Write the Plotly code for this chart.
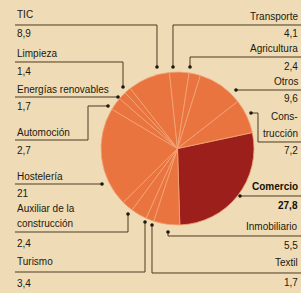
import plotly.graph_objects as go

# ---- data (clockwise order, starting with Comercio) ----
sectors = ["Comercio", "Inmobiliario", "Textil", "Turismo", "Auxiliar de la construcción",
           "Hostelería", "Automoción", "Energías renovables", "Limpieza", "TIC",
           "Transporte", "Agricultura", "Otros", "Construcción"]
values = [27.8, 5.5, 1.7, 3.4, 2.4, 21, 2.7, 1.7, 1.4, 8.9, 4.1, 2.4, 9.6, 7.2]
value_labels = ["27,8", "5,5", "1,7", "3,4", "2,4", "21", "2,7", "1,7", "1,4", "8,9",
                "4,1", "2,4", "9,6", "7,2"]

W, H = 301, 293
BG = "#efdcb6"
ORANGE = "#e97440"
DARK = "#9c1f1c"
INK = "#21190e"
LINE = "#4a3b22"
FONT = "Liberation Sans Narrow, Liberation Sans, Arial, sans-serif"

colors = [DARK] + [ORANGE] * (len(sectors) - 1)

def px(x):
    return x / W

def py(y):
    return 1 - y / H

fig = go.Figure()
fig.add_trace(go.Pie(
    labels=sectors, values=values, sort=False, direction="clockwise", rotation=78,
    marker=dict(colors=colors, line=dict(color="#f3a676", width=0.8)),
    textinfo="none", hoverinfo="label+value", showlegend=False,
    domain=dict(x=[px(101), px(254)], y=[py(225), py(72)]),
))

# ---- label text: (text, x, y, anchor, bold) ----
texts = [
    ("TIC", 17, 15, "left", False), (value_labels[9], 17, 33, "left", False),
    ("Limpieza", 17, 54, "left", False), (value_labels[8], 17, 71, "left", False),
    ("Energías renovables", 17, 89, "left", False), (value_labels[7], 17, 106, "left", False),
    ("Automoción", 17, 132, "left", False), (value_labels[6], 17, 150, "left", False),
    ("Hostelería", 17, 176, "left", False), (value_labels[5], 17, 193, "left", False),
    ("Auxiliar de la", 17, 208, "left", False), ("construcción", 17, 223, "left", False),
    (value_labels[4], 17, 243, "left", False),
    ("Turismo", 17, 261, "left", False), (value_labels[3], 17, 283, "left", False),
    ("Transporte", 298, 16, "right", False), (value_labels[10], 298, 33, "right", False),
    ("Agricultura", 298, 48, "right", False), (value_labels[11], 298, 66, "right", False),
    ("Otros", 298, 81, "right", False), (value_labels[12], 298, 99, "right", False),
    ("Cons-", 298, 117, "right", False), ("trucción", 298, 133, "right", False),
    (value_labels[13], 298, 150, "right", False),
    ("Comercio", 298, 187, "right", True), (value_labels[0], 298, 205, "right", True),
    ("Inmobiliario", 298, 226, "right", False), (value_labels[1], 298, 246, "right", False),
    ("Textil", 298, 262, "right", False), (value_labels[2], 298, 282, "right", False),
]
for t, x, y, anc, bold in texts:
    fig.add_annotation(
        x=px(x), y=py(y), xref="paper", yref="paper", showarrow=False,
        text=f"<b>{t}</b>" if bold else t, xanchor=anc, yanchor="middle",
        xshift=-2 if anc == "left" else 2,
        font=dict(family=FONT, size=10, color="#140f08" if bold else INK),
    )

# ---- leader lines (polylines in pixel space) and end dots ----
leaders = [
    [(15, 25), (157, 25), (157, 67)],
    [(301, 25), (173, 25), (173, 67)],
    [(301, 57), (190, 57), (190, 67)],
    [(15, 62), (123, 62), (123, 87)],
    [(15, 97), (118, 97)],
    [(15, 140), (88, 140), (88, 106), (108, 106)],
    [(301, 90), (236, 90)],
    [(301, 142), (258, 142), (258, 113), (251, 113)],
    [(15, 184), (102, 184)],
    [(301, 196), (240, 196)],
    [(15, 232), (128, 232), (128, 214)],
    [(301, 236), (168, 236), (168, 232)],
    [(15, 272), (145, 272), (145, 222)],
    [(301, 273), (152, 273), (152, 225)],
]
for pts in leaders:
    path = "M " + " L ".join(f"{px(x):.5f},{py(y):.5f}" for x, y in pts)
    fig.add_shape(type="path", path=path, xref="paper", yref="paper",
                  line=dict(color=LINE, width=1))
    ex, ey = pts[-1]
    r = 1.8
    fig.add_shape(type="circle", xref="paper", yref="paper",
                  x0=px(ex - r), x1=px(ex + r), y0=py(ey + r), y1=py(ey - r),
                  fillcolor="#1e170e", line=dict(width=0))

fig.update_layout(
    width=W, height=H, margin=dict(l=0, r=0, t=0, b=0),
    paper_bgcolor=BG, plot_bgcolor=BG,
)
fig.write_html(
    "out.html",
    config={"displayModeBar": False},
    post_script="document.body.style.margin='0';document.body.style.overflow='hidden';",
)
